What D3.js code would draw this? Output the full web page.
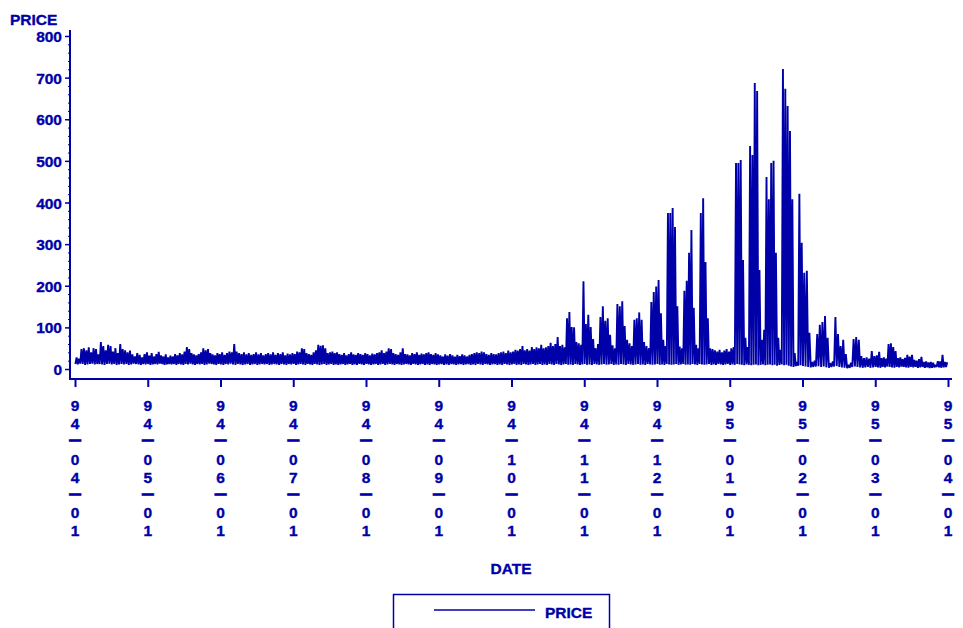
<!DOCTYPE html>
<html>
<head>
<meta charset="utf-8">
<script src="https://cdn.jsdelivr.net/npm/d3@7"></script>
<style>
body { margin: 0; background: #fff; }
svg text { font-family: "Liberation Sans", Arial, sans-serif; font-weight: bold; fill: #0000a8; stroke: #0000a8; stroke-width: 0.35px; }
</style>
</head>
<body>
<script>
// daily price range, one entry per day from 94-04-01 to 95-03-31
var startDate = "94-04-01";

var priceHigh = [
    28,25,48,50,45,52,40,50,48,35, 65,55,45,58,55,42,50,38,60,48,
    45,40,44,35,30,38,34,28,36,40, 32,38,30,36,41,33,30,35,28,32,
    30,36,33,38,35,42,53,48,38,35, 33,36,40,50,45,48,38,35,33,38,
    36,40,34,38,42,40,60,42,38,36, 40,35,38,34,36,40,35,38,33,36,
    38,35,40,34,38,36,40,33,37,35, 38,36,42,40,50,48,38,36,34,40,
    45,58,56,57,50,38,40,42,38,40, 36,34,38,33,36,40,35,34,38,36,
    34,38,36,33,37,35,38,40,45,38, 42,50,48,38,36,34,40,50,36,35,
    33,38,36,40,34,37,35,38,40,36, 34,38,35,33,30,35,32,36,33,30,
    34,31,35,33,30,34,36,38,40,38, 42,40,36,34,38,36,35,38,40,42,
    38,44,40,42,46,44,48,55,45,48, 44,53,48,52,50,58,50,52,55,63,
    55,60,77,55,58,52,122,137,101,100, 65,62,58,211,108,130,101,72,50,60,
    125,151,116,122,82,57,50,156,151,163, 103,70,62,55,118,122,136,118,65,55,
    50,161,185,198,214,134,70,55,375,375, 387,341,151,54,50,188,212,279,334,147,
    58,50,375,410,257,122,50,48,45,42, 46,40,44,48,42,50,53,495,495,502,
    262,75,53,536,514,687,668,238,70,94, 461,408,495,500,279,75,46,721,673,632,
    572,408,38,17,421,303,231,236,87,17, 20,84,106,113,127,75,14,18,125,84,
    55,70,36,10,15,72,77,70,31,26, 28,25,43,31,33,41,26,28,25,60,
    62,53,43,26,28,24,27,34,30,34, 22,20,24,29,17,18,16,17,15,10,
    19,18,34,17,16
];

var priceLow = [
    12,11,13,12,10,11,12,13,11,12, 12,11,10,12,13,11,12,10,11,12,
    11,12,10,11,13,12,11,10,12,11, 12,10,11,12,11,13,12,10,11,12,
    11,12,10,12,11,10,12,11,13,11, 10,12,11,12,10,11,13,12,11,10,
    12,11,10,12,11,13,11,10,12,11, 10,11,12,10,11,12,10,11,12,11,
    12,10,11,12,11,10,12,11,10,12, 11,12,10,11,12,11,10,12,11,10,
    12,11,10,11,12,10,11,12,10,11, 10,11,12,10,11,12,10,11,10,12,
    11,10,12,11,10,11,12,10,11,12, 10,11,12,11,10,12,11,10,11,12,
    11,10,12,11,10,11,12,10,11,10, 12,11,10,11,12,10,11,10,12,11,
    10,11,12,10,11,12,10,11,10,12, 11,10,12,11,10,11,12,10,11,10,
    12,11,10,11,12,10,11,10,12,11, 10,11,12,10,11,12,10,11,10,12,
    11,10,12,11,10,11,12,10,11,10, 12,11,10,11,12,10,11,10,12,11,
    10,11,12,10,11,12,10,11,10,12, 11,10,12,11,10,11,12,10,11,10,
    12,11,10,11,12,10,11,10,12,11, 10,11,12,10,11,12,10,11,10,12,
    11,10,12,11,10,11,12,10,11,10, 12,11,10,11,12,10,11,10,12,11,
    10,9,11,10,9,10,11,9,10,11, 9,10,11,9,10,8,10,11,9,10,
    8,6,5,7,8,9,7,6,5,4, 5,6,7,5,6,4,3,5,6,7,
    5,4,3,2,3,5,6,5,4,3, 4,5,3,4,5,4,3,5,4,6,
    5,4,3,5,4,6,5,4,3,5, 4,5,3,4,5,3,4,2,3,4,
    5,4,3,4,5
];

var dateTicks = ["94-04-01","94-05-01","94-06-01","94-07-01","94-08-01","94-09-01","94-10-01",
                 "94-11-01","94-12-01","95-01-01","95-02-01","95-03-01","95-04-01"];
var priceTicks = [0,100,200,300,400,500,600,700,800];

(function(){

    var width = 963,
        height = 628,
        blue = "#0000a8";

    var parseDate = d3.timeParse("%y-%m-%d");
    var tickDates = dateTicks.map(parseDate);
    var start = parseDate(startDate);

    var svg = d3.select("body")
        .append("svg")
        .attr("width", width)
        .attr("height", height);

    //months get equal room on the axis, like the original plot
    var x = d3.scaleTime()
        .domain(tickDates)
        .range(tickDates.map(function(d, i){ return 75 + i * 72.75; }));

    var y = d3.scaleLinear()
        .domain([-24, 814.4])
        .range([379, 30]);

    //build the series: overnight low then daytime high for each day
    var series = [];
    for (var i = 0; i < priceHigh.length; i++) {
        series.push({ date: d3.timeHour.offset(d3.timeDay.offset(start, i), 4), value: priceLow[i] });
        series.push({ date: d3.timeHour.offset(d3.timeDay.offset(start, i), 16), value: priceHigh[i] });
    }

    var line = d3.line()
        .x(function(d){ return x(d.date); })
        .y(function(d){ return y(d.value); });

    svg.append("path")
        .datum(series)
        .attr("d", line)
        .attr("fill", "none")
        .attr("stroke", blue)
        .attr("stroke-width", 1.9)
        .attr("stroke-linejoin", "bevel");

    //y axis: minor ticks, then major ticks with labels
    var yMinor = d3.range(0, 801, 20);
    svg.append("g")
        .attr("transform", "translate(70,0)")
        .call(d3.axisLeft(y).tickValues(yMinor).tickSize(2).tickFormat(""))
        .call(function(g){ g.select(".domain").remove(); g.selectAll("line").attr("stroke", blue); });

    var yAxis = svg.append("g")
        .attr("transform", "translate(70,0)")
        .call(d3.axisLeft(y).tickValues(priceTicks).tickSize(5).tickPadding(3));
    yAxis.select(".domain").remove();
    yAxis.selectAll("line").attr("stroke", blue).attr("stroke-width", 1.5);
    yAxis.selectAll("text")
        .attr("font-size", "15.5px")
        .attr("dy", "0.36em")
        .style("fill", blue);

    //axis lines
    svg.append("line")
        .attr("x1", 70).attr("x2", 70)
        .attr("y1", y.range()[0]).attr("y2", y.range()[1])
        .attr("stroke", blue).attr("stroke-width", 2);
    svg.append("line")
        .attr("x1", 69).attr("x2", 952)
        .attr("y1", 379).attr("y2", 379)
        .attr("stroke", blue).attr("stroke-width", 2);

    //x axis ticks
    var xAxis = svg.append("g")
        .attr("transform", "translate(0,379)")
        .call(d3.axisBottom(x).tickValues(tickDates).tickSize(8).tickFormat(""));
    xAxis.select(".domain").remove();
    xAxis.selectAll("line").attr("stroke", blue).attr("stroke-width", 2);

    //stacked tick labels, one character per row
    dateTicks.forEach(function(label, i){
        var cx = x(tickDates[i]);
        label.split("").forEach(function(ch, j){
            var base = 411 + j * 17.9;
            if (ch == "-") {
                svg.append("text")
                    .attr("transform", "translate(" + cx + "," + (base - 2) + ") scale(0.78,1)")
                    .attr("text-anchor", "middle")
                    .attr("font-size", "15px")
                    .style("stroke-width", "1px")
                    .text("\u2014");
            } else {
                svg.append("text")
                    .attr("x", cx)
                    .attr("y", base)
                    .attr("text-anchor", "middle")
                    .attr("font-size", "15.5px")
                    .text(ch);
            }
        });
    });

    //axis titles
    svg.append("text")
        .attr("x", 10).attr("y", 25)
        .attr("font-size", "15.5px")
        .text("PRICE");
    svg.append("text")
        .attr("x", 511).attr("y", 574)
        .attr("text-anchor", "middle")
        .attr("font-size", "15.5px")
        .text("DATE");

    //legend
    svg.append("rect")
        .attr("x", 393.5).attr("y", 594.5)
        .attr("width", 216).attr("height", 60)
        .attr("fill", "none")
        .attr("stroke", blue)
        .attr("stroke-width", 1.5);
    svg.append("line")
        .attr("x1", 434).attr("x2", 535)
        .attr("y1", 610).attr("y2", 610)
        .attr("stroke", blue).attr("stroke-width", 1.5);
    svg.append("text")
        .attr("x", 545).attr("y", 618)
        .attr("font-size", "15.5px")
        .text("PRICE");
})();
</script>
</body>
</html>
